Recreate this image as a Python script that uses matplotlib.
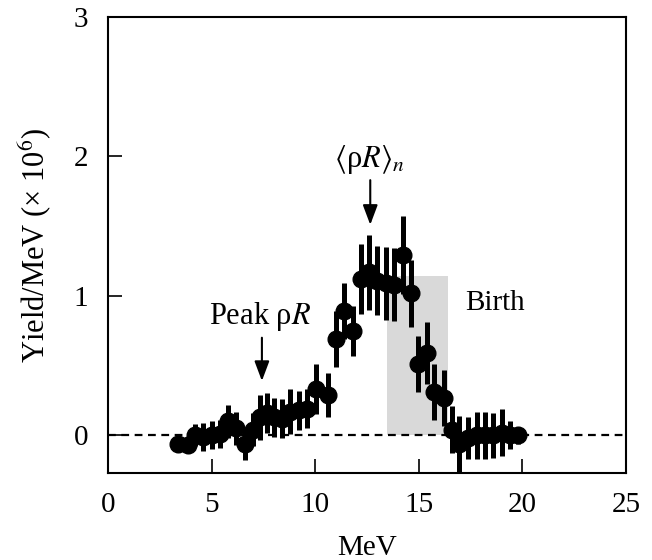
import matplotlib
matplotlib.use("Agg")
import matplotlib.pyplot as plt

plt.rcParams['font.family'] = ['Liberation Serif', 'DejaVu Serif']
plt.rcParams['mathtext.fontset'] = 'stix'

# spectrum
energy = [3.4, 3.85, 4.2, 4.6, 5.0, 5.4, 5.8, 6.2, 6.6, 7.0, 7.35, 7.7, 8.0, 8.4,
          8.8, 9.2, 9.6, 10.05, 10.6, 11.0, 11.4, 11.85, 12.2, 12.6, 13.0, 13.4,
          13.8, 14.25, 14.65, 14.95, 15.4, 15.75, 16.2, 16.6, 16.95, 17.4, 17.8,
          18.2, 18.6, 19.0, 19.4, 19.8]
yld = [-0.06, -0.07, 0.0, -0.01, 0.0, 0.01, 0.10, 0.05, -0.06, 0.04, 0.13, 0.16,
       0.13, 0.12, 0.17, 0.18, 0.19, 0.33, 0.29, 0.69, 0.89, 0.75, 1.12, 1.17,
       1.11, 1.09, 1.08, 1.29, 1.02, 0.51, 0.59, 0.31, 0.27, 0.04, -0.06, -0.02,
       0.0, 0.0, 0.0, 0.02, 0.0, 0.0]
err = [0.06, 0.06, 0.08, 0.10, 0.10, 0.10, 0.12, 0.12, 0.12, 0.12, 0.16, 0.14,
       0.14, 0.14, 0.16, 0.14, 0.14, 0.18, 0.16, 0.20, 0.20, 0.18, 0.25, 0.27,
       0.25, 0.26, 0.26, 0.28, 0.24, 0.20, 0.22, 0.20, 0.20, 0.17, 0.20, 0.15,
       0.17, 0.17, 0.16, 0.17, 0.10, 0.06]

birth_lo, birth_hi, birth_top = 13.45, 16.4, 1.14

fig = plt.figure(figsize=(6.52, 5.6), dpi=100)
ax = fig.add_axes([0.1656, 0.1554, 0.7944, 0.8142])

ax.fill_between([birth_lo, birth_hi], 0, birth_top, color='#d9d9d9', lw=0, zorder=1)
ax.axhline(0, color='black', ls=(0, (3.5, 2.5)), lw=1.6, zorder=2)
ax.errorbar(energy, yld, yerr=err, fmt='o', color='black', ms=12,
            elinewidth=3.6, capsize=0, zorder=3)

ax.annotate('', xy=(7.43, 0.37), xytext=(7.43, 0.72),
            arrowprops=dict(arrowstyle='-|>,head_width=0.45,head_length=1.2',
                            color='black', lw=1.5))
ax.text(7.35, 0.85, r'Peak ρ$R$', ha='center', va='center', fontsize=22)
ax.annotate('', xy=(12.66, 1.49), xytext=(12.66, 1.85),
            arrowprops=dict(arrowstyle='-|>,head_width=0.45,head_length=1.2',
                            color='black', lw=1.5))
ax.text(12.6, 1.98, r'$\langle$ρ$R\rangle_n$', ha='center', va='center', fontsize=22)
ax.text(17.25, 0.95, 'Birth', ha='left', va='center', fontsize=21)

ax.set_xlim(0, 25)
ax.set_ylim(-0.27, 3)
ax.set_xticks([0, 5, 10, 15, 20, 25])
ax.set_yticks([0, 1, 2, 3])
ax.tick_params(direction='in', length=10, width=1.2, labelsize=21, pad=14,
               top=False, right=False)
for s in ax.spines.values():
    s.set_linewidth(1.5)

ax.set_xlabel('MeV', fontsize=21, labelpad=12)
ax.set_ylabel(r'Yield/MeV (× 10$^{6}$)', fontsize=22, labelpad=14)

fig.savefig('out.png', dpi=100)
